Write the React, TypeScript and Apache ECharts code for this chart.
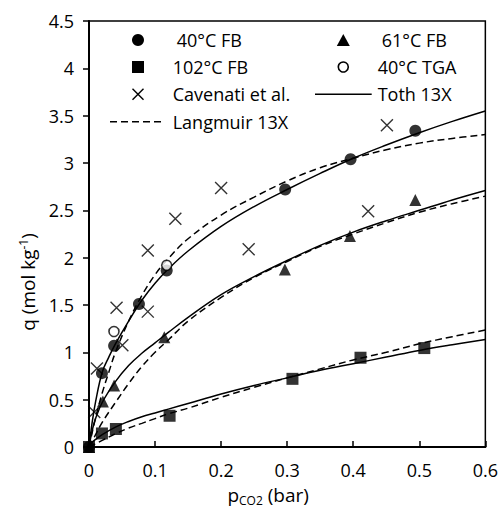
import React, { useEffect, useRef } from "react";
import * as echarts from "echarts";

// Measured points
const fb40X = [0, 0.0196, 0.038, 0.0756, 0.1176, 0.297, 0.396, 0.494];
const fb40Q = [0, 0.78, 1.07, 1.51, 1.865, 2.72, 3.04, 3.34];
const fb61X = [0, 0.021, 0.038, 0.114, 0.2965, 0.395, 0.494];
const fb61Q = [0, 0.48, 0.65, 1.16, 1.875, 2.23, 2.61];
const fb102X = [0, 0.0196, 0.0407, 0.122, 0.308, 0.411, 0.5076];
const fb102Q = [0, 0.143, 0.19, 0.33, 0.72, 0.943, 1.045];
const tga40X = [0.0378, 0.1176];
const tga40Q = [1.22, 1.92];
const cavX = [0.008, 0.012, 0.0417, 0.0505, 0.089, 0.089, 0.1307, 0.2, 0.2417, 0.4226, 0.451];
const cavQ = [0.37, 0.83, 1.47, 1.075, 1.43, 2.075, 2.41, 2.735, 2.09, 2.49, 3.4];

// Model curves
const toth40X = [0, 0.005, 0.01, 0.02, 0.03, 0.04, 0.06, 0.08, 0.1, 0.12, 0.15, 0.2, 0.25, 0.3, 0.35, 0.4, 0.45, 0.5, 0.55, 0.6];
const toth40Q = [0, 0.27, 0.48, 0.79, 0.95, 1.09, 1.33, 1.55, 1.73, 1.88, 2.07, 2.33, 2.54, 2.72, 2.89, 3.05, 3.19, 3.32, 3.44, 3.55];
const lang40X = [0, 0.01, 0.02, 0.03, 0.04, 0.06, 0.08, 0.1, 0.12, 0.15, 0.2, 0.25, 0.3, 0.35, 0.4, 0.45, 0.5, 0.55, 0.6];
const lang40Q = [0, 0.31, 0.57, 0.79, 1.0, 1.33, 1.6, 1.82, 1.99, 2.2, 2.45, 2.64, 2.81, 2.95, 3.05, 3.14, 3.21, 3.26, 3.3];
const toth61X = [0, 0.005, 0.01, 0.02, 0.04, 0.06, 0.08, 0.1, 0.12, 0.15, 0.2, 0.25, 0.3, 0.35, 0.4, 0.45, 0.5, 0.55, 0.6];
const toth61Q = [0, 0.18, 0.3, 0.47, 0.69, 0.86, 0.99, 1.1, 1.21, 1.37, 1.61, 1.8, 1.97, 2.13, 2.27, 2.39, 2.5, 2.61, 2.71];
const lang61X = [0, 0.01, 0.02, 0.04, 0.06, 0.08, 0.1, 0.12, 0.15, 0.2, 0.25, 0.3, 0.35, 0.4, 0.45, 0.5, 0.55, 0.6];
const lang61Q = [0, 0.13, 0.26, 0.47, 0.67, 0.85, 1.0, 1.13, 1.33, 1.58, 1.79, 1.96, 2.12, 2.25, 2.37, 2.48, 2.57, 2.65];
const toth102X = [0, 0.005, 0.01, 0.02, 0.04, 0.06, 0.08, 0.1, 0.12, 0.15, 0.2, 0.25, 0.3, 0.35, 0.4, 0.45, 0.5, 0.55, 0.6];
const toth102Q = [0, 0.05, 0.08, 0.13, 0.21, 0.27, 0.32, 0.36, 0.4, 0.46, 0.56, 0.65, 0.73, 0.81, 0.88, 0.95, 1.02, 1.08, 1.135];
const lang102X = [0, 0.02, 0.04, 0.06, 0.08, 0.1, 0.12, 0.15, 0.2, 0.25, 0.3, 0.35, 0.4, 0.45, 0.5, 0.55, 0.6];
const lang102Q = [0, 0.07, 0.14, 0.2, 0.25, 0.3, 0.35, 0.41, 0.525, 0.63, 0.73, 0.825, 0.92, 1.0, 1.09, 1.165, 1.235];

// Legend entries: [name, glyph]
const legendCol1 = [
  ["40°C FB", "dot"],
  ["102°C FB", "square"],
  ["Cavenati et al.", "cross"],
  ["Langmuir 13X", "dash"],
];
const legendCol2 = [
  ["61°C FB", "triangle"],
  ["40°C TGA", "ring"],
  ["Toth 13X", "solid"],
];

const FONT = "'Open Sans', sans-serif";
const zip = (xs: number[], ys: number[]) => xs.map((x, i) => [x, ys[i]]);

function glyph(kind: string, cx: number, cy: number, lineLeft: number, lineRight: number): any {
  const black = "#000";
  switch (kind) {
    case "dot":
      return { type: "circle", shape: { cx, cy, r: 6 }, style: { fill: black } };
    case "square":
      return { type: "rect", shape: { x: cx - 6, y: cy - 6, width: 12, height: 12 }, style: { fill: black } };
    case "triangle":
      return { type: "polygon", shape: { points: [[cx, cy - 6], [cx + 6.5, cy + 6], [cx - 6.5, cy + 6]] }, style: { fill: black } };
    case "ring":
      return { type: "circle", shape: { cx, cy, r: 5 }, style: { fill: "#fff", stroke: black, lineWidth: 1.6 } };
    case "cross":
      return {
        type: "group",
        children: [
          { type: "line", shape: { x1: cx - 5.5, y1: cy - 5.5, x2: cx + 5.5, y2: cy + 5.5 }, style: { stroke: black, lineWidth: 1.4 } },
          { type: "line", shape: { x1: cx - 5.5, y1: cy + 5.5, x2: cx + 5.5, y2: cy - 5.5 }, style: { stroke: black, lineWidth: 1.4 } },
        ],
      };
    case "solid":
      return { type: "line", shape: { x1: lineLeft, y1: cy, x2: lineRight, y2: cy }, style: { stroke: black, lineWidth: 1.5 } };
    default:
      return { type: "line", shape: { x1: lineLeft, y1: cy, x2: lineRight, y2: cy }, style: { stroke: black, lineWidth: 1.5, lineDash: [7, 4] } };
  }
}

export default function App() {
  const ref = useRef<HTMLDivElement>(null);
  useEffect(() => {
    document.body.style.margin = "0";
    const chart = echarts.init(ref.current!, null, { renderer: "svg" });
    const tothLine = (xs: number[], ys: number[]) => ({
      type: "line",
      name: "Toth 13X",
      data: zip(xs, ys),
      smooth: 0.4,
      symbol: "none",
      z: 2,
      lineStyle: { color: "#000", width: 1.5, type: "solid" },
      itemStyle: { color: "#000" },
    });
    const langLine = (xs: number[], ys: number[]) => ({
      type: "line",
      name: "Langmuir 13X",
      data: zip(xs, ys),
      smooth: 0.4,
      symbol: "none",
      z: 2,
      lineStyle: { color: "#000", width: 1.5, type: [7, 4] },
      itemStyle: { color: "#000" },
    });

    const rowsY = [40, 67, 94.3, 121.7];
    const legendEls: any[] = [];
    const addCol = (entries: string[][], markerX: number, textX: number, lineL: number, lineR: number) => {
      entries.forEach(([name, kind], i) => {
        legendEls.push(glyph(kind, markerX, rowsY[i], lineL, lineR));
        legendEls.push({
          type: "text",
          x: textX + (kind === "dot" || kind === "triangle" ? 4 : 0),
          y: rowsY[i],
          style: { text: name, fontFamily: FONT, fontSize: 18, fill: "#000", verticalAlign: "middle", align: "left" },
        });
      });
    };
    addCol(legendCol1, 138, 172.7, 110, 161.7);
    addCol(legendCol2, 343.3, 377.7, 315, 371.7);

    chart.setOption({
      animation: false,
      backgroundColor: "#fff",
      grid: {
        left: 89,
        right: 14.5,
        top: 21,
        bottom: 59,
        show: true,
        borderColor: "#000",
        borderWidth: 1.5,
      },
      graphic: legendEls,
      xAxis: {
        type: "value",
        min: 0,
        max: 0.6,
        interval: 0.1,
        splitLine: { show: false },
        axisLine: { lineStyle: { color: "#000", width: 2 } },
        axisTick: { inside: true, length: 6, lineStyle: { color: "#000", width: 1.5 } },
        axisLabel: { fontFamily: FONT, fontSize: 18, color: "#000", margin: 14 },
        name: "{a|p}{b|CO2}{a| (bar)}",
        nameLocation: "middle",
        nameGap: 37,
        nameTextStyle: {
          padding: [0, 38, 0, 0],
          rich: {
            a: { fontFamily: FONT, fontSize: 19, color: "#000", lineHeight: 22 },
            b: { fontFamily: FONT, fontSize: 12, color: "#000", lineHeight: 14, verticalAlign: "bottom" },
          },
        },
      },
      yAxis: {
        type: "value",
        min: 0,
        max: 4.5,
        interval: 0.5,
        splitLine: { show: false },
        axisLine: { lineStyle: { color: "#000", width: 2 } },
        axisTick: { inside: false, length: 6, lineStyle: { color: "#000", width: 1.5 } },
        axisLabel: { fontFamily: FONT, fontSize: 18, color: "#000", margin: 15 },
        name: "{a|q (mol kg}{b|-1}{a|)}",
        nameLocation: "middle",
        nameGap: 48,
        nameTextStyle: {
          padding: [0, 96, 0, 0],
          rich: {
            a: { fontFamily: FONT, fontSize: 19, color: "#000", lineHeight: 22 },
            b: { fontFamily: FONT, fontSize: 12, color: "#000", lineHeight: 14, verticalAlign: "top" },
          },
        },
      },
      series: [
        tothLine(toth40X, toth40Q),
        langLine(lang40X, lang40Q),
        tothLine(toth61X, toth61Q),
        langLine(lang61X, lang61Q),
        tothLine(toth102X, toth102Q),
        langLine(lang102X, lang102Q),
        {
          type: "scatter",
          z: 3,
          name: "Cavenati et al.",
          data: zip(cavX, cavQ),
          symbol: "path://M0,0L10,10M10,0L0,10",
          symbolSize: 12,
          itemStyle: { color: "transparent", borderColor: "#000", borderWidth: 1.4 },
        },
        {
          type: "scatter",
          z: 3,
          name: "40°C FB",
          data: zip(fb40X, fb40Q),
          symbol: "circle",
          symbolSize: 12,
          itemStyle: { color: "#000" },
        },
        {
          type: "scatter",
          z: 3,
          name: "61°C FB",
          data: zip(fb61X, fb61Q),
          symbol: "triangle",
          symbolSize: 12,
          itemStyle: { color: "#000" },
        },
        {
          type: "scatter",
          z: 3,
          name: "40°C TGA",
          data: zip(tga40X, tga40Q),
          symbol: "circle",
          symbolSize: 10,
          itemStyle: { color: "#fff", borderColor: "#000", borderWidth: 1.6 },
        },
        {
          type: "scatter",
          z: 3,
          name: "102°C FB",
          data: zip(fb102X, fb102Q),
          symbol: "rect",
          symbolSize: 12,
          itemStyle: { color: "#000" },
        },
      ],
    });
    return () => chart.dispose();
  }, []);
  return <div ref={ref} style={{ width: 501, height: 511 }} />;
}
